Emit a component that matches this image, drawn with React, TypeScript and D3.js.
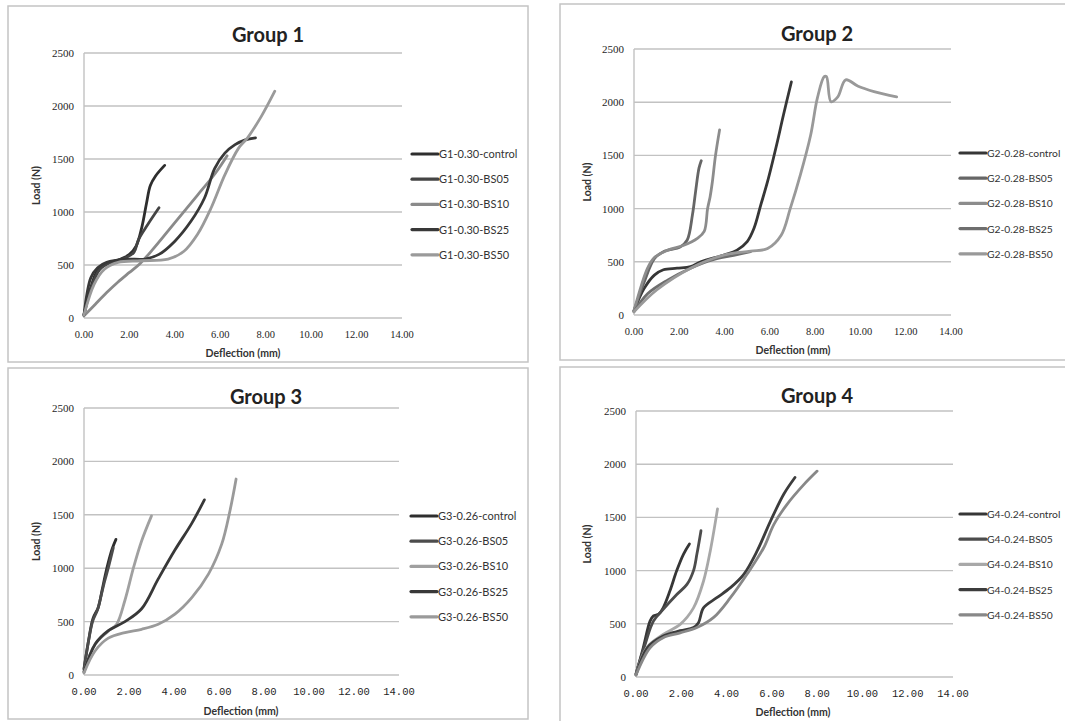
import React from 'react';
import * as d3 from 'd3';

type Pt = [number, number];

const X_TICKS = [0, 2, 4, 6, 8, 10, 12, 14];
const Y_TICKS = [0, 500, 1000, 1500, 2000, 2500];
const SUFFIXES = ['control', 'BS05', 'BS10', 'BS25', 'BS50'];
const GROUP_TITLES = ['Group 1', 'Group 2', 'Group 3', 'Group 4'];
const GROUP_PREFIXES = ['G1-0.30', 'G2-0.28', 'G3-0.26', 'G4-0.24'];

// group 1 (deflection mm, load N)
const G1_CONTROL: Pt[] = [[0, 30], [0.3, 290], [0.6, 450], [1.0, 515], [1.5, 545], [2.0, 600], [2.3, 680], [2.55, 860], [2.75, 1080], [2.92, 1250], [3.15, 1340], [3.55, 1440]];
const G1_BS05: Pt[] = [[0, 30], [0.3, 270], [0.7, 460], [1.2, 525], [1.8, 565], [2.2, 620], [2.4, 740], [2.8, 880], [3.3, 1040]];
const G1_BS10: Pt[] = [[0, 20], [0.5, 130], [1.0, 240], [1.5, 340], [2.0, 430], [2.45, 510], [3.0, 640], [4.0, 900], [5.0, 1160], [5.8, 1370], [6.3, 1530]];
const G1_BS25: Pt[] = [[0, 30], [0.3, 380], [0.6, 475], [1.0, 525], [1.8, 555], [2.7, 556], [3.3, 600], [4.0, 725], [4.7, 910], [5.3, 1130], [5.75, 1410], [6.2, 1555], [6.65, 1635], [7.1, 1680], [7.55, 1700]];
const G1_BS50: Pt[] = [[0, 30], [0.45, 320], [0.9, 460], [1.5, 525], [2.5, 540], [3.7, 556], [4.4, 630], [5.0, 790], [5.6, 1040], [6.2, 1350], [6.8, 1600], [7.2, 1700], [7.8, 1900], [8.4, 2140]];

// group 2
const G2_CONTROL: Pt[] = [[0, 40], [0.45, 250], [0.9, 375], [1.3, 425], [1.9, 440], [2.5, 455], [2.95, 500], [4.0, 565], [4.55, 610], [5.0, 690], [5.3, 815], [5.6, 1035], [5.9, 1255], [6.3, 1600], [6.6, 1880], [6.95, 2190]];
const G2_BS05: Pt[] = [[0, 40], [0.45, 310], [0.9, 530], [1.3, 595], [2.05, 640], [2.35, 705], [2.58, 940], [2.72, 1160], [2.87, 1380], [2.97, 1450]];
const G2_BS10: Pt[] = [[0, 40], [0.6, 440], [0.9, 540], [1.5, 610], [2.2, 655], [2.8, 720], [3.1, 785], [3.25, 1000], [3.36, 1110], [3.46, 1250], [3.6, 1500], [3.78, 1740]];
const G2_BS25: Pt[] = [[0, 30], [0.6, 200], [1.5, 330], [2.5, 440], [3.5, 520], [4.4, 560], [5.15, 595]];
const G2_BS50: Pt[] = [[0, 30], [1.0, 235], [2.5, 440], [4.0, 565], [5.15, 600], [5.9, 625], [6.5, 750], [6.9, 1000], [7.35, 1320], [7.8, 1690], [8.1, 2040], [8.4, 2240], [8.5, 2240], [8.7, 2005], [9.0, 2050], [9.35, 2210], [9.9, 2150], [10.6, 2100], [11.6, 2050]];

// group 3
const G3_CONTROL: Pt[] = [[0, 60], [0.2, 320], [0.4, 530], [0.63, 630], [0.8, 790], [0.95, 940], [1.1, 1070], [1.25, 1180], [1.42, 1270]];
const G3_BS05: Pt[] = [[0, 50], [0.18, 290], [0.38, 500], [0.6, 610], [0.78, 760], [0.92, 880], [1.1, 1020], [1.3, 1190]];
const G3_BS10: Pt[] = [[0, 30], [0.5, 290], [1.08, 410], [1.45, 475], [1.82, 700], [2.2, 1005], [2.56, 1255], [3.0, 1490]];
const G3_BS25: Pt[] = [[0, 30], [0.5, 290], [1.08, 415], [1.82, 500], [2.56, 620], [3.3, 900], [4.04, 1170], [4.79, 1420], [5.35, 1640]];
const G3_BS50: Pt[] = [[0, 20], [0.49, 225], [1.08, 345], [1.82, 397], [2.56, 428], [3.3, 475], [4.04, 570], [4.79, 725], [5.53, 945], [6.12, 1225], [6.49, 1540], [6.76, 1835]];

// group 4
const G4_CONTROL: Pt[] = [[0, 30], [0.32, 275], [0.62, 525], [0.77, 575], [1.0, 590], [1.2, 650], [1.5, 810], [1.8, 1000], [2.1, 1155], [2.36, 1250]];
const G4_BS05: Pt[] = [[0, 30], [0.4, 305], [0.77, 525], [1.2, 635], [1.8, 775], [2.25, 870], [2.54, 1000], [2.69, 1155], [2.87, 1375]];
const G4_BS10: Pt[] = [[0, 20], [0.47, 275], [1.2, 400], [1.95, 495], [2.54, 650], [2.98, 900], [3.28, 1185], [3.6, 1580]];
const G4_BS25: Pt[] = [[0, 20], [0.5, 275], [1.2, 385], [1.95, 435], [2.54, 465], [2.76, 510], [2.98, 650], [3.57, 745], [4.17, 840], [4.76, 965], [5.35, 1185], [5.94, 1465], [6.53, 1720], [7.02, 1875]];
const G4_BS50: Pt[] = [[0, 20], [0.62, 275], [1.2, 370], [1.95, 415], [2.69, 465], [3.43, 560], [4.17, 745], [4.9, 965], [5.64, 1215], [6.09, 1435], [6.68, 1625], [7.42, 1810], [8.0, 1935]];

const GROUP_DATA: Pt[][][] = [
  [G1_CONTROL, G1_BS05, G1_BS10, G1_BS25, G1_BS50],
  [G2_CONTROL, G2_BS05, G2_BS10, G2_BS25, G2_BS50],
  [G3_CONTROL, G3_BS05, G3_BS10, G3_BS25, G3_BS50],
  [G4_CONTROL, G4_BS05, G4_BS10, G4_BS25, G4_BS50],
];

const GROUP_COLORS = [
  ['#2e2e2e', '#444444', '#8a8a8a', '#383838', '#9a9a9a'],
  ['#363636', '#666666', '#8c8c8c', '#6e6e6e', '#999999'],
  ['#2e2e2e', '#4c4c4c', '#a0a0a0', '#383838', '#9a9a9a'],
  ['#363636', '#4c4c4c', '#a8a8a8', '#3c3c3c', '#888888'],
];

// layout of each scanned panel
const PANELS = [
  { box: [8, 6, 520, 356], left: 84, right: 402, top: 53, bottom: 318, titleX: 268, titleY: 42, xTitleX: 243, xTitleY: 357, yTitleX: 40, legX: 412, legY: 154, legFont: 11, xFont: 'Liberation Serif' },
  { box: [560, 4, 520, 356], left: 634, right: 951, top: 49, bottom: 315, titleX: 817, titleY: 41, xTitleX: 793, xTitleY: 354, yTitleX: 591, legX: 960, legY: 153, legFont: 10.3, xFont: 'Liberation Serif' },
  { box: [8, 368, 520, 351], left: 84, right: 399, top: 408, bottom: 675, titleX: 266, titleY: 404, xTitleX: 241, xTitleY: 715, yTitleX: 40, legX: 411, legY: 516, legFont: 11, xFont: 'Liberation Mono' },
  { box: [560, 367, 520, 360], left: 636, right: 953, top: 411, bottom: 677, titleX: 817, titleY: 403, xTitleX: 793, xTitleY: 716, yTitleX: 591, legX: 960, legY: 514, legFont: 10.3, xFont: 'Liberation Mono' },
];

const Panel: React.FC<{ idx: number }> = ({ idx }) => {
  const p = PANELS[idx];
  const x = d3.scaleLinear().domain([0, 14]).range([p.left, p.right]);
  const y = d3.scaleLinear().domain([0, 2500]).range([p.bottom, p.top]);
  const line = d3.line<Pt>()
    .x(d => x(d[0]))
    .y(d => y(d[1]))
    .curve(d3.curveCatmullRom.alpha(0.5));
  const fmt = d3.format('.2f');

  return (
    <g>
      <rect x={p.box[0]} y={p.box[1]} width={p.box[2]} height={p.box[3]} fill="#fff" stroke="#c4c4c4" strokeWidth={1.5} />
      {Y_TICKS.map(t => (
        <g key={t}>
          <line x1={p.left} x2={p.right} y1={y(t)} y2={y(t)} stroke="#c2c2c2" strokeWidth={1.4} />
          <text x={p.left - 10} y={y(t) + 4} textAnchor="end" fontFamily="Liberation Serif" fontSize={11} fill="#1e1e1e">{t}</text>
        </g>
      ))}
      <line x1={p.left} x2={p.left} y1={p.top} y2={p.bottom} stroke="#c2c2c2" strokeWidth={1.4} />
      {X_TICKS.map(t => (
        <text key={t} x={x(t)} y={p.bottom + 20} textAnchor="middle" fontFamily={p.xFont} fontSize={10.5} fill="#1e1e1e">{fmt(t)}</text>
      ))}
      <text x={p.titleX} y={p.titleY} textAnchor="middle" fontFamily="Lato" fontWeight="bold" fontSize={20} fill="#222">{GROUP_TITLES[idx]}</text>
      <text x={p.xTitleX} y={p.xTitleY} textAnchor="middle" fontFamily="Lato" fontWeight="bold" fontSize={10.5} fill="#333">Deflection (mm)</text>
      <text transform={`translate(${p.yTitleX},${(p.top + p.bottom) / 2}) rotate(-90)`} textAnchor="middle" fontFamily="Lato" fontWeight="bold" fontSize={10.5} fill="#333">Load (N)</text>
      {GROUP_DATA[idx].map((s, i) => (
        <path key={i} d={line(s) ?? ''} fill="none" stroke={GROUP_COLORS[idx][i]} strokeWidth={2.8} strokeLinecap="round" strokeLinejoin="round" />
      ))}
      {SUFFIXES.map((s, i) => {
        const ly = p.legY + i * 25.2;
        return (
          <g key={s}>
            <line x1={p.legX} x2={p.legX + 26} y1={ly} y2={ly} stroke={GROUP_COLORS[idx][i]} strokeWidth={3.2} strokeLinecap="round" />
            <text x={p.legX + 27} y={ly + 4} fontFamily="Lato" fontSize={p.legFont} fill="#333">{`${GROUP_PREFIXES[idx]}-${s}`}</text>
          </g>
        );
      })}
    </g>
  );
};

export default function App() {
  return (
    <div style={{ position: 'absolute', left: 0, top: 0 }}>
      <svg width={1065} height={721} style={{ display: 'block' }}>
        <rect x={0} y={0} width={1065} height={721} fill="#fff" />
        {PANELS.map((_, i) => <Panel key={i} idx={i} />)}
      </svg>
    </div>
  );
}
